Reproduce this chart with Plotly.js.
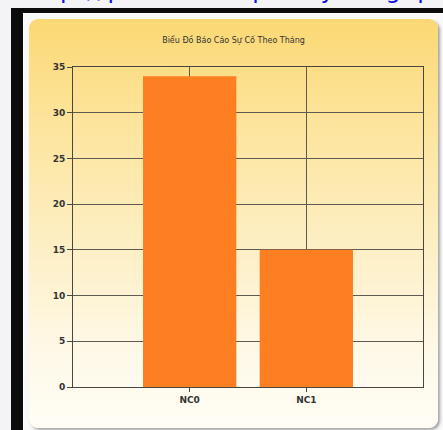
<!DOCTYPE html>
<html>
<head>
<meta charset="utf-8">
<script src="https://cdn.plot.ly/plotly-3.0.1.min.js"></script>
<style>
  html, body { margin: 0; padding: 0; width: 443px; height: 430px; overflow: hidden; background: #f4f4f6; position: relative; }
  #link { position: absolute; left: 20px; top: -24px; font: 24px "DejaVu Sans", sans-serif; color: #1010e0; white-space: nowrap; letter-spacing: 2px; }
  #frame { position: absolute; left: 11px; top: 8px; width: 432px; height: 422px; background: #0c0c0c; }
  #inner { position: absolute; left: 23px; top: 13px; width: 419px; height: 416px; background: #f9f9f9; border-left: 1px solid #fff; border-top: 1px solid #fff; }
  #chart { position: absolute; left: 29px; top: 19px; width: 409px; height: 409px; border-radius: 9px;
           background: linear-gradient(to bottom, #fbd874 0%, #fde49c 25%, #fdefc4 55%, #fef8e6 80%, #fffdf6 100%);
           box-shadow: 2px 2px 3px rgba(0,0,0,0.35); }
</style>
</head>
<body>
<div id="link">http://phanmemquanly.blogspot.com/copy/by</div>
<div id="frame"></div>
<div id="inner"></div>
<div id="chart"></div>
<script>
const categories = ["NC0", "NC1"];
const values = [34, 15];
const yTicks = [0, 5, 10, 15, 20, 25, 30, 35];
const chartTitle = "Biểu Đồ Báo Cáo Sự Cố Theo Tháng";

const data = [{
  type: "bar",
  x: categories,
  y: values,
  width: 0.8,
  marker: { color: "#fe7f22", line: { width: 0 } },
  hoverinfo: "none"
}];

const layout = {
  width: 409, height: 409,
  margin: { l: 44, r: 15, t: 48, b: 41 },
  paper_bgcolor: "rgba(0,0,0,0)",
  plot_bgcolor: "rgba(0,0,0,0)",
  showlegend: false,
  title: { text: chartTitle, x: 0.5, xanchor: "center", y: 0.949, yanchor: "middle",
           font: { family: "DejaVu Sans, sans-serif", size: 8, color: "#333" } },
  xaxis: {
    type: "category",
    range: [-1, 2],
    showgrid: true, gridcolor: "#5e5a52", gridwidth: 1,
    showline: true, linecolor: "#4a4740", linewidth: 1, mirror: true,
    ticks: "outside", ticklen: 4, tickcolor: "#4a4740",
    tickfont: { family: "DejaVu Sans, sans-serif", size: 9, color: "#333", weight: "bold" },
    fixedrange: true
  },
  yaxis: {
    range: [0, 35],
    tickvals: yTicks,
    ticktext: yTicks.map(String),
    showgrid: true, gridcolor: "#5e5a52", gridwidth: 1,
    zeroline: false,
    showline: true, linecolor: "#4a4740", linewidth: 1, mirror: true,
    ticks: "outside", ticklen: 5, tickcolor: "#4a4740",
    tickfont: { family: "DejaVu Sans, sans-serif", size: 9, color: "#333", weight: "bold" },
    fixedrange: true
  },
  bargap: 0.2
};

Plotly.newPlot("chart", data, layout, { displayModeBar: false, staticPlot: true });
</script>
</body>
</html>
